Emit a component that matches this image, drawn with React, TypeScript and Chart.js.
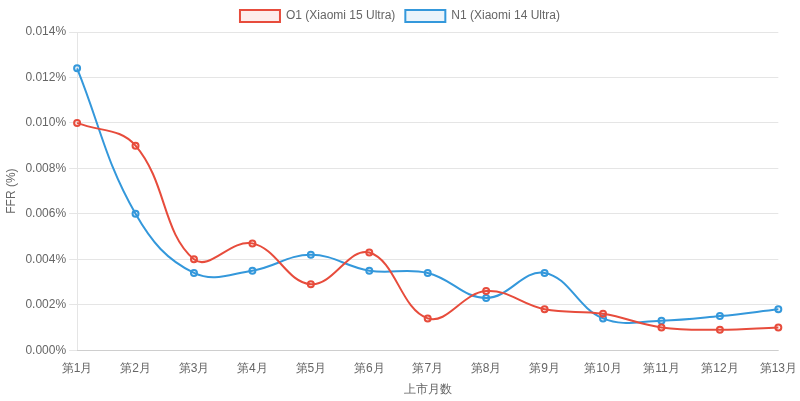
import { useEffect, useRef } from "react"
import { Chart, registerables } from "chart.js"

Chart.register(...registerables)

const months = ["第1月", "第2月", "第3月", "第4月", "第5月", "第6月", "第7月", "第8月", "第9月", "第10月", "第11月", "第12月", "第13月"]
const o1Values = [0.01, 0.009, 0.004, 0.0047, 0.0029, 0.0043, 0.0014, 0.0026, 0.0018, 0.0016, 0.001, 0.0009, 0.001]
const n1Values = [0.0124, 0.006, 0.0034, 0.0035, 0.0042, 0.0035, 0.0034, 0.0023, 0.0034, 0.0014, 0.0013, 0.0015, 0.0018]

export default function App() {
  const chartRef = useRef<HTMLCanvasElement>(null)
  const chartInstance = useRef<Chart | null>(null)

  useEffect(() => {
    document.body.style.margin = "0"
    if (!chartRef.current) return
    if (chartInstance.current) chartInstance.current.destroy()

    chartInstance.current = new Chart(chartRef.current, {
      type: "line",
      data: {
        labels: months,
        datasets: [
          {
            label: "O1 (Xiaomi 15 Ultra)",
            data: o1Values,
            borderColor: "#e74c3c",
            backgroundColor: "rgba(231, 76, 60, 0.1)",
            borderWidth: 2,
            pointRadius: 3,
            pointBorderWidth: 2,
            tension: 0.4,
          },
          {
            label: "N1 (Xiaomi 14 Ultra)",
            data: n1Values,
            borderColor: "#3498db",
            backgroundColor: "rgba(52, 152, 219, 0.1)",
            borderWidth: 2,
            pointRadius: 3,
            pointBorderWidth: 2,
            tension: 0.4,
          },
        ],
      },
      options: {
        animation: false,
        responsive: false,
        plugins: {
          legend: { position: "top" },
        },
        scales: {
          x: {
            grid: { drawOnChartArea: false, tickColor: "rgba(0,0,0,0)" },
            title: { display: true, text: "上市月数" },
          },
          y: {
            min: 0,
            max: 0.014,
            ticks: {
              stepSize: 0.002,
              callback: (v) => Number(v).toFixed(3) + "%",
            },
            title: { display: true, text: "FFR (%)" },
          },
        },
      },
    })

    return () => {
      if (chartInstance.current) {
        chartInstance.current.destroy()
        chartInstance.current = null
      }
    }
  }, [])

  return <canvas ref={chartRef} width={800} height={401}></canvas>
}
